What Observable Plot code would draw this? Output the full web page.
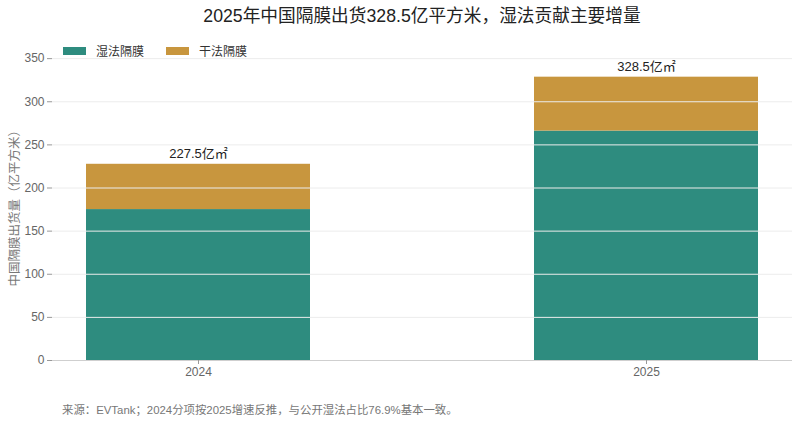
<!DOCTYPE html>
<html><head><meta charset="utf-8">
<script src="https://cdn.jsdelivr.net/npm/d3@7"></script>
<script src="https://cdn.jsdelivr.net/npm/@observablehq/plot@0.6"></script>
<style>
body{margin:0;background:#fff;font-family:"Liberation Sans","Noto Sans CJK SC",sans-serif;width:800px;height:422px;overflow:hidden;position:relative}
#title{height:32px;line-height:32px;margin-left:52px;width:740px;text-align:center;font-size:17.7px;color:#222;font-family:"Liberation Sans","Noto Sans CJK SC",sans-serif}
#legend{position:absolute;left:63px;top:42px;font-size:12px;color:#333;display:flex;align-items:center}
#legend span.sw{display:inline-block;width:23px;height:8px;margin-right:10px}
#legend span.lab{margin-right:22px}
#foot{position:absolute;left:62px;top:401px;font-size:11.4px;color:#777}
</style></head><body>
<div id="title">2025年中国隔膜出货328.5亿平方米，湿法贡献主要增量</div>
<div id="chart"></div>
<div id="legend"></div>
<div id="foot">来源：EVTank；2024分项按2025增速反推，与公开湿法占比76.9%基本一致。</div>
<script>
const years = ["2024", "2025"];
const series = ["湿法隔膜", "干法隔膜"];
const wet = [175, 266];
const dry = [52.5, 62.5];
const totals = [227.5, 328.5];
const totalLabels = ["227.5亿㎡", "328.5亿㎡"];
const colors = ["#2e8c7f", "#c8963e"];
const yTicks = [0, 50, 100, 150, 200, 250, 300, 350];
const yTitle = "中国隔膜出货量（亿平方米）";

const rows = [];
years.forEach((y, i) => {
  rows.push({year: y, type: series[0], value: wet[i]});
  rows.push({year: y, type: series[1], value: dry[i]});
});
const tot = years.map((y, i) => ({year: y, total: totals[i], label: totalLabels[i]}));

const chart = Plot.plot({
  width: 800,
  height: 353,
  marginLeft: 52,
  marginRight: 8,
  marginTop: 5,
  marginBottom: 25,
  style: {fontFamily: '"Liberation Sans","Noto Sans CJK SC",sans-serif', fontSize: "12px", color: "#555"},
  x: {domain: years, paddingInner: 0.5, paddingOuter: 0.075, label: null},
  y: {domain: [0, 374.5], label: null},
  color: {domain: series, range: colors},
  marks: [
    Plot.barY(rows, {x: "year", y: "value", fill: "type", order: series}),
    Plot.gridY(yTicks.filter(d => d > 0), {stroke: "#ececec", strokeOpacity: 1, strokeWidth: 1}),
    Plot.ruleY([0], {stroke: "#cfcfcf"}),
    Plot.ruleX([0], {frameAnchor: "left", stroke: "#cfcfcf"}),
    Plot.axisY({ticks: yTicks, tickSize: 5, tickPadding: 3, stroke: "#999", fill: "#666", fontSize: 12}),
    Plot.axisX({tickSize: 4, tickPadding: 3, stroke: "#999", fill: "#666", fontSize: 12}),
    Plot.text(tot, {x: "year", y: "total", text: "label", dy: -10, fill: "#222", fontSize: 13}),
    Plot.text([yTitle], {frameAnchor: "left", y: [180], textAnchor: "middle", dx: -38, rotate: -90, fill: "#777", fontSize: 12.5})
  ]
});
document.getElementById("chart").appendChild(chart);

const lg = document.getElementById("legend");
series.forEach((s, i) => {
  lg.insertAdjacentHTML("beforeend", `<span class="sw" style="background:${colors[i]}"></span><span class="lab">${s}</span>`);
});
</script>
</body></html>
